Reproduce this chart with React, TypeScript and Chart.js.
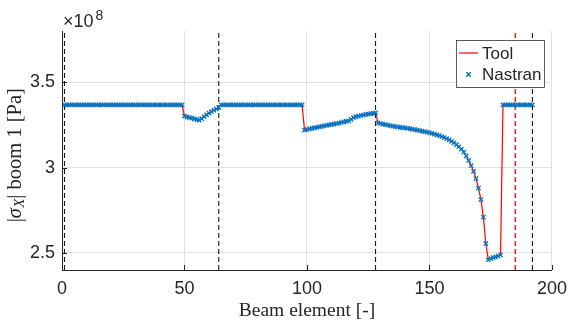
import { useEffect, useRef } from "react";
import { Chart, registerables } from "chart.js";

Chart.register(...registerables);

// Axial stress |sigma_X| in boom 1, in units of 1e8 Pa, one value per beam element (1..192)
const toolStress: number[] = [
  // elements 1-49
  3.367, 3.367, 3.367, 3.367, 3.367, 3.367, 3.367, 3.367, 3.367, 3.367,
  3.367, 3.367, 3.367, 3.367, 3.367, 3.367, 3.367, 3.367, 3.367, 3.367,
  3.367, 3.367, 3.367, 3.367, 3.367, 3.367, 3.367, 3.367, 3.367, 3.367,
  3.367, 3.367, 3.367, 3.367, 3.367, 3.367, 3.367, 3.367, 3.367, 3.367,
  3.367, 3.367, 3.367, 3.367, 3.367, 3.367, 3.367, 3.367, 3.367,
  // elements 50-64
  3.301, 3.297, 3.293, 3.289, 3.285, 3.281, 3.278, 3.287, 3.298, 3.309,
  3.319, 3.328, 3.336, 3.344, 3.352,
  // elements 65-98
  3.367, 3.367, 3.367, 3.367, 3.367, 3.367, 3.367, 3.367, 3.367, 3.367,
  3.367, 3.367, 3.367, 3.367, 3.367, 3.367, 3.367, 3.367, 3.367, 3.367,
  3.367, 3.367, 3.367, 3.367, 3.367, 3.367, 3.367, 3.367, 3.367, 3.367,
  3.367, 3.367, 3.367, 3.367,
  // elements 99-128
  3.219, 3.223, 3.226, 3.229, 3.232, 3.235, 3.238, 3.241, 3.244, 3.247,
  3.250, 3.253, 3.255, 3.258, 3.261, 3.264, 3.267, 3.270, 3.274, 3.283,
  3.292, 3.299, 3.302, 3.305, 3.308, 3.311, 3.313, 3.316, 3.318, 3.321,
  // elements 129-179
  3.262, 3.258, 3.254, 3.251, 3.248, 3.245, 3.243, 3.240, 3.238, 3.236,
  3.234, 3.232, 3.230, 3.228, 3.225, 3.222, 3.219, 3.216, 3.213, 3.210,
  3.207, 3.204, 3.200, 3.196, 3.192, 3.187, 3.182, 3.176, 3.169, 3.162,
  3.154, 3.145, 3.134, 3.122, 3.108, 3.090, 3.068, 3.042, 3.012, 2.978,
  2.935, 2.880, 2.812, 2.710, 2.555, 2.460, 2.466, 2.472, 2.477, 2.482,
  2.488,
  // elements 180-192
  3.367, 3.367, 3.367, 3.367, 3.367, 3.367, 3.367, 3.367, 3.367, 3.367,
  3.367, 3.367, 3.367,
];

// The Nastran reference run agrees with the tool element by element
const nastranStress: number[] = toolStress;

// Section boundaries (black) and the loaded element (red)
const sectionBounds = [1, 64, 128, 192];
const loadBounds = [185];

const xTicks = [0, 50, 100, 150, 200];
const yTicks = [2.5, 3, 3.5];
const xRange = [0, 200];
const yRange = [2.4, 3.8];

const INK = "#262626";
const SANS = "'Liberation Sans', Arial, sans-serif";
const SERIF = "'Liberation Serif', 'Times New Roman', serif";

const toPoints = (vals: number[]) => vals.map((y, i) => ({ x: i + 1, y }));

const boundLine = (x: number, color: string, width: number, label: string) => ({
  label,
  data: [
    { x, y: yRange[0] },
    { x, y: yRange[1] },
  ],
  borderColor: color,
  borderWidth: width,
  borderDash: [5, 3],
  pointRadius: 0,
  showLine: true,
  order: 3,
});

const decorPlugin = {
  id: "decor",
  afterDraw(chart: any) {
    const { ctx, chartArea: a, scales } = chart;
    ctx.save();

    // inward tick marks
    ctx.strokeStyle = INK;
    ctx.lineWidth = 1;
    ctx.beginPath();
    for (const v of xTicks) {
      const px = Math.round(scales.x.getPixelForValue(v)) + 0.5;
      ctx.moveTo(px, a.bottom);
      ctx.lineTo(px, a.bottom - 5);
    }
    for (const v of yTicks) {
      const py = Math.round(scales.y.getPixelForValue(v)) + 0.5;
      ctx.moveTo(a.left, py);
      ctx.lineTo(a.left + 5, py);
    }
    ctx.stroke();

    // exponent label
    ctx.fillStyle = INK;
    ctx.textBaseline = "alphabetic";
    ctx.textAlign = "left";
    ctx.font = `18px ${SANS}`;
    const base = "\u00d710";
    ctx.fillText(base, a.left + 1, a.top - 4);
    const bw = ctx.measureText(base).width;
    ctx.font = `14px ${SANS}`;
    ctx.fillText("8", a.left + 1 + bw + 2, a.top - 11);

    // y-axis title: |σ_X| boom 1 [Pa]
    const parts = [
      { t: "|", font: `20.5px ${SERIF}`, dy: 0 },
      { t: "\u03c3", font: `italic 20.5px ${SERIF}`, dy: 0 },
      { t: "X", font: `italic 14.5px ${SERIF}`, dy: 3 },
      { t: "| boom 1 [Pa]", font: `20.5px ${SERIF}`, dy: 0 },
    ];
    let total = 0;
    const widths = parts.map((p) => {
      ctx.font = p.font;
      const w = ctx.measureText(p.t).width;
      total += w;
      return w;
    });
    ctx.translate(20.5, (a.top + a.bottom) / 2 + 5);
    ctx.rotate(-Math.PI / 2);
    let cx = -total / 2;
    parts.forEach((p, i) => {
      ctx.font = p.font;
      ctx.fillText(p.t, cx, p.dy);
      cx += widths[i] + (i === 1 ? 0.5 : 0);
    });
    ctx.setTransform(1, 0, 0, 1, 0, 0);

    // legend
    const lw = 88;
    const lh = 47;
    const lx = a.right - 95.5;
    const ly = a.top + 9.5;
    ctx.fillStyle = "#ffffff";
    ctx.fillRect(lx, ly, lw, lh);
    ctx.strokeStyle = INK;
    ctx.lineWidth = 0.75;
    ctx.strokeRect(lx, ly, lw, lh);

    const row1 = ly + 12.5;
    const row2 = ly + 34;
    ctx.strokeStyle = "#ff0000";
    ctx.lineWidth = 1.2;
    ctx.beginPath();
    ctx.moveTo(lx + 2.5, row1);
    ctx.lineTo(lx + 21.5, row1);
    ctx.stroke();

    const mx = lx + 12;
    ctx.strokeStyle = "#0072BD";
    ctx.lineWidth = 1.4;
    ctx.beginPath();
    ctx.moveTo(mx - 2.2, row2 - 2.2);
    ctx.lineTo(mx + 2.2, row2 + 2.2);
    ctx.moveTo(mx - 2.2, row2 + 2.2);
    ctx.lineTo(mx + 2.2, row2 - 2.2);
    ctx.stroke();

    ctx.fillStyle = INK;
    ctx.font = `17px ${SANS}`;
    ctx.textBaseline = "middle";
    ctx.fillText("Tool", lx + 25.5, row1 + 1);
    ctx.fillText("Nastran", lx + 25.5, row2 + 1);

    ctx.restore();
  },
};

export default function App() {
  const canvasRef = useRef<HTMLCanvasElement | null>(null);

  useEffect(() => {
    document.body.style.margin = "0";
    const canvas = canvasRef.current;
    if (!canvas) return;

    const datasets: any[] = [
      {
        label: "Nastran",
        data: toPoints(nastranStress),
        showLine: false,
        pointStyle: "crossRot",
        pointRadius: 3,
        pointBorderWidth: 1.4,
        pointBorderColor: "#0a74c4",
        pointBackgroundColor: "#0a74c4",
        order: 1,
      },
      {
        label: "Tool",
        data: toPoints(toolStress),
        showLine: true,
        borderColor: "#ff0000",
        borderWidth: 1.2,
        pointRadius: 0,
        order: 2,
      },
      ...sectionBounds.map((b) => boundLine(b, "#000000", 1, "section")),
      ...loadBounds.map((b) => boundLine(b, "#ff0000", 1.3, "load")),
    ];

    const chart = new Chart(canvas, {
      type: "scatter",
      data: { datasets },
      plugins: [decorPlugin],
      options: {
        animation: false,
        responsive: false,
        devicePixelRatio: 1,
        events: [],
        layout: { padding: { top: 31, right: 18, left: 0, bottom: 0 } },
        plugins: {
          legend: { display: false },
          tooltip: { enabled: false },
        },
        scales: {
          x: {
            type: "linear",
            min: xRange[0],
            max: xRange[1],
            afterBuildTicks: (s: any) => {
              s.ticks = xTicks.map((value) => ({ value }));
            },
            afterFit: (s: any) => {
              s.height = 59;
            },
            ticks: {
              color: INK,
              font: { family: SANS, size: 18 },
              padding: 8,
              callback: (v: any) => String(v),
            },
            grid: { color: "#e0e0e0", drawTicks: false },
            border: { display: true, color: INK, width: 1 },
            title: {
              display: true,
              text: "Beam element [-]",
              color: INK,
              font: { family: SERIF, size: 19.5 },
              padding: { top: 0, bottom: 6 },
            },
          },
          y: {
            type: "linear",
            min: yRange[0],
            max: yRange[1],
            afterBuildTicks: (s: any) => {
              s.ticks = yTicks.map((value) => ({ value }));
            },
            afterFit: (s: any) => {
              s.width = 62;
            },
            ticks: {
              color: INK,
              font: { family: SANS, size: 18 },
              padding: 7,
              callback: (v: any) => String(v),
            },
            grid: { color: "#e0e0e0", drawTicks: false },
            border: { display: true, color: INK, width: 1 },
          },
        },
      },
    });

    return () => chart.destroy();
  }, []);

  return (
    <div style={{ width: 575, height: 329, background: "#fff" }}>
      <canvas ref={canvasRef} width={575} height={329} />
    </div>
  );
}
